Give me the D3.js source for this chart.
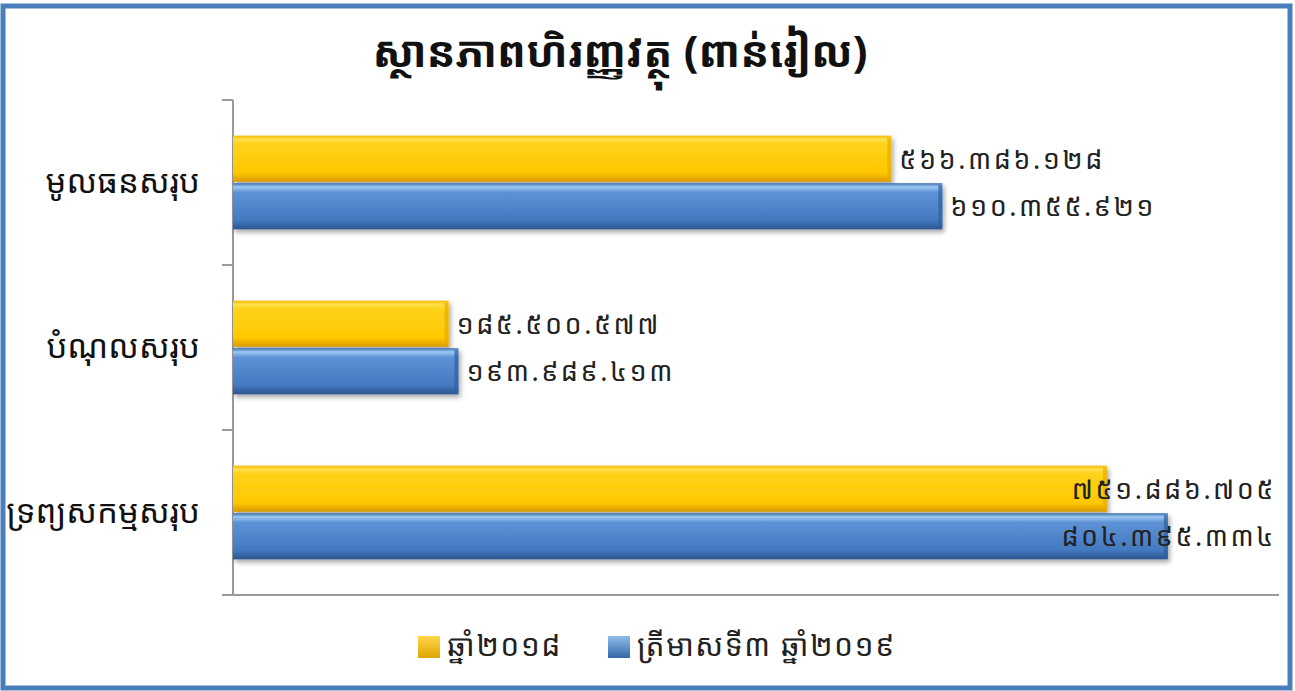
<!DOCTYPE html>
<html>
<head>
<meta charset="utf-8">
<script src="https://cdn.jsdelivr.net/npm/d3@7"></script>
<style>
  html, body { margin: 0; padding: 0; background: #fff; }
  svg { display: block; }
  .kh { font-family: "Khmer OS", "Noto Sans Khmer", "Noto Serif Khmer", "Noto Sans", "DejaVu Sans", sans-serif; }
</style>
</head>
<body>
<div id="chart"></div>
<script>
// data
const categories = ['មូលធនសរុប', 'បំណុលសរុប', 'ទ្រព្យសកម្មសរុប']
const seriesNames = ['ឆ្នាំ២០១៨', 'ត្រីមាសទី៣ ឆ្នាំ២០១៩']
const values2018 = [566386128, 185500577, 751886705]
const valuesQ3_2019 = [610355921, 193989413, 804395334]
const titleText = 'ស្ថានភាពហិរញ្ញវត្ថុ (ពាន់រៀល)'

const width = 1295
const height = 691
const margin = { top: 100, right: 16, bottom: 96, left: 233 }

const KHMER_DIGITS = ['០', '១', '២', '៣', '៤', '៥', '៦', '៧', '៨', '៩']
function toKhmer (n) {
  return d3.format(',')(n).replace(/,/g, '.').replace(/[0-9]/g, d => KHMER_DIGITS[+d])
}

const svg = d3.select('#chart').append('svg')
  .attr('width', width)
  .attr('height', height)

const defs = svg.append('defs')

function barGradient (id, stops) {
  const g = defs.append('linearGradient')
    .attr('id', id)
    .attr('x1', 0).attr('y1', 0).attr('x2', 0).attr('y2', 1)
  stops.forEach(([o, c]) => g.append('stop').attr('offset', o).attr('stop-color', c))
}
barGradient('gYellow', [[0, '#f5b800'], [0.08, '#ffe14d'], [0.18, '#ffd21a'], [0.8, '#ffc800'], [1, '#d99a00']])
barGradient('gBlue', [[0, '#3d6fb0'], [0.08, '#9cc8f2'], [0.2, '#5d92d6'], [0.8, '#4479c0'], [1, '#2b5690']])

const shadow = defs.append('filter').attr('id', 'shadow')
  .attr('x', '-5%').attr('y', '-20%').attr('width', '110%').attr('height', '150%')
shadow.append('feDropShadow')
  .attr('dx', 2).attr('dy', 3).attr('stdDeviation', 2.5)
  .attr('flood-color', '#000').attr('flood-opacity', 0.35)

// frame
svg.append('rect')
  .attr('x', 3).attr('y', 6)
  .attr('width', width - 8).attr('height', height - 9)
  .attr('fill', '#fff')
  .attr('stroke', '#4a7ebb')
  .attr('stroke-width', 5)

svg.append('text')
  .attr('class', 'kh')
  .attr('x', 620)
  .attr('y', 67)
  .attr('text-anchor', 'middle')
  .style('font-size', '43px')
  .style('font-weight', 'bold')
  .attr('fill', '#111')
  .text(titleText)

const x = d3.scaleLinear()
  .domain([0, 900000000])
  .range([margin.left, width - margin.right])

const y = d3.scaleBand()
  .domain(categories)
  .range([margin.top, height - margin.bottom])

const inner = d3.scaleBand()
  .domain([0, 1])
  .range([0, y.bandwidth()])
  .paddingOuter(0.75)
  .paddingInner(0.03)

// axes
const axisColor = '#9a9a9a'
svg.append('line')
  .attr('x1', margin.left).attr('x2', margin.left)
  .attr('y1', margin.top).attr('y2', height - margin.bottom)
  .attr('stroke', axisColor).attr('stroke-width', 2)
svg.append('line')
  .attr('x1', margin.left - 11).attr('x2', width - margin.right)
  .attr('y1', height - margin.bottom).attr('y2', height - margin.bottom)
  .attr('stroke', axisColor).attr('stroke-width', 2)

const tickYs = categories.map(c => y(c)).concat([height - margin.bottom])
svg.append('g').selectAll('line')
  .data(tickYs)
  .join('line')
  .attr('x1', margin.left - 11).attr('x2', margin.left)
  .attr('y1', d => d).attr('y2', d => d)
  .attr('stroke', axisColor).attr('stroke-width', 2)

svg.append('g').selectAll('text')
  .data(categories)
  .join('text')
  .attr('class', 'kh')
  .attr('x', 200)
  .attr('y', d => y(d) + y.bandwidth() / 2 + 10)
  .attr('text-anchor', 'end')
  .style('font-size', '33px')
  .attr('fill', '#111')
  .text(d => d)

// bars
const series = [
  { name: seriesNames[0], values: values2018, fill: 'url(#gYellow)', swatch: ['#ffd84a', '#e0a400'] },
  { name: seriesNames[1], values: valuesQ3_2019, fill: 'url(#gBlue)', swatch: ['#8fbdea', '#3467a8'] }
]

const barData = []
series.forEach((s, si) => {
  categories.forEach((c, ci) => {
    barData.push({ cat: c, si, value: s.values[ci], fill: s.fill })
  })
})

svg.append('g').selectAll('rect')
  .data(barData)
  .join('rect')
  .attr('x', x(0))
  .attr('y', d => y(d.cat) + inner(d.si))
  .attr('width', d => x(d.value) - x(0))
  .attr('height', inner.bandwidth())
  .attr('fill', d => d.fill)
  .attr('filter', 'url(#shadow)')

// right bevel edge
svg.append('g').selectAll('rect')
  .data(barData)
  .join('rect')
  .attr('x', d => x(d.value) - 4)
  .attr('y', d => y(d.cat) + inner(d.si) + 2)
  .attr('width', 4)
  .attr('height', inner.bandwidth() - 4)
  .attr('fill', d => d.si === 0 ? '#e6ac00' : '#2f5f9e')
  .attr('opacity', 0.7)

// value labels
const rightLimit = width - margin.right - 3
svg.append('g').selectAll('text')
  .data(barData)
  .join('text')
  .attr('class', 'kh')
  .attr('y', d => y(d.cat) + inner(d.si) + inner.bandwidth() / 2 + 10)
  .style('font-size', '27px')
  .style('letter-spacing', '2.5px')
  .attr('fill', '#222')
  .text(d => toKhmer(d.value))
  .attr('x', function (d) {
    const w = this.getComputedTextLength()
    return Math.min(x(d.value) + 8, rightLimit - w)
  })

// legend
const legendItems = [
  { s: series[0], x: 418 },
  { s: series[1], x: 608 }
]
legendItems.forEach((item, i) => {
  const gid = 'sw' + i
  const g = defs.append('linearGradient').attr('id', gid)
    .attr('x1', 0).attr('y1', 0).attr('x2', 0).attr('y2', 1)
  g.append('stop').attr('offset', 0).attr('stop-color', item.s.swatch[0])
  g.append('stop').attr('offset', 1).attr('stop-color', item.s.swatch[1])
  svg.append('rect')
    .attr('x', item.x).attr('y', 636)
    .attr('width', 22).attr('height', 22)
    .attr('fill', `url(#${gid})`)
  svg.append('text')
    .attr('class', 'kh')
    .attr('x', item.x + 29)
    .attr('y', 656)
    .style('font-size', '30px')
    .style('letter-spacing', '1.5px')
    .attr('fill', '#222')
    .text(item.s.name)
})
</script>
</body>
</html>
